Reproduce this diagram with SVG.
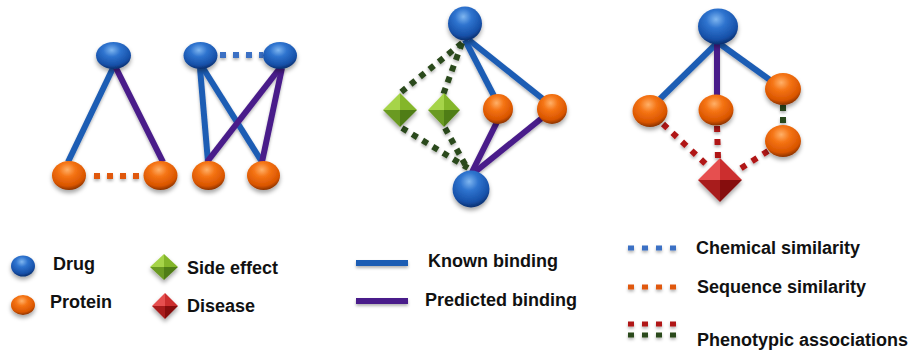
<svg xmlns="http://www.w3.org/2000/svg" width="912" height="358" viewBox="0 0 912 358">
<defs>
<radialGradient id="gBlue" cx="0.45" cy="0.3" r="0.7">
<stop offset="0" stop-color="#7fb6f0"/>
<stop offset="0.35" stop-color="#2f74cf"/>
<stop offset="0.8" stop-color="#1650a8"/>
<stop offset="1" stop-color="#0b2f6e"/>
</radialGradient>
<radialGradient id="gOrange" cx="0.45" cy="0.3" r="0.7">
<stop offset="0" stop-color="#ffb068"/>
<stop offset="0.35" stop-color="#f57414"/>
<stop offset="0.8" stop-color="#d95500"/>
<stop offset="1" stop-color="#8a3300"/>
</radialGradient>
<filter id="sh" x="-50%" y="-50%" width="200%" height="200%">
<feDropShadow dx="0" dy="3" stdDeviation="2" flood-color="#000" flood-opacity="0.35"/>
</filter>
<filter id="lsh" filterUnits="userSpaceOnUse" x="0" y="0" width="912" height="358">
<feDropShadow dx="0" dy="2" stdDeviation="1.5" flood-color="#000" flood-opacity="0.3"/>
</filter>
</defs>
<style>
.drug{fill:url(#gBlue);filter:url(#sh)}
.prot{fill:url(#gOrange);filter:url(#sh)}
.known{stroke:#1f5db4;stroke-width:6;fill:none}
.pred{stroke:#4a1d8a;stroke-width:6;fill:none}
.chem{stroke:#3b6fc4;stroke-width:6;stroke-dasharray:6 7;fill:none}
.seq{stroke:#e0580e;stroke-width:6;stroke-dasharray:6 7;fill:none}
.phg{stroke:#2c4a1c;stroke-width:6;stroke-dasharray:6 6;fill:none}
.phr{stroke:#b01414;stroke-width:6;stroke-dasharray:6 7;fill:none}
.ldot{stroke-width:5;stroke-dasharray:6 8}
.lbl{font-family:"Liberation Sans",Arial,sans-serif;font-weight:bold;font-size:18px;fill:#111}
</style>

<g id="connectors" filter="url(#lsh)">
<!-- panel 1 -->
<line class="known" x1="113" y1="68" x2="68" y2="162"/>
<line class="pred" x1="116" y1="68" x2="163" y2="162"/>
<line class="seq" x1="94" y1="176" x2="142" y2="176"/>
<!-- panel 2 -->
<line class="chem" x1="220" y1="55" x2="263" y2="55"/>
<line class="known" x1="200" y1="68" x2="208" y2="162"/>
<line class="known" x1="203" y1="68" x2="262" y2="162"/>
<line class="pred" x1="280" y1="68" x2="207" y2="162"/>
<line class="pred" x1="282" y1="68" x2="262" y2="162"/>
<!-- panel 3 -->
<line class="known" x1="465" y1="40" x2="494" y2="96"/>
<line class="known" x1="469" y1="40" x2="543" y2="99"/>
<line class="pred" x1="472" y1="172" x2="497" y2="122"/>
<line class="pred" x1="475" y1="172" x2="542" y2="118"/>
<line class="phg" x1="462" y1="43" x2="400" y2="93"/>
<line class="phg" x1="462" y1="43" x2="443" y2="95"/>
<line class="phg" x1="402" y1="128" x2="468" y2="168"/>
<line class="phg" x1="445" y1="128" x2="467" y2="168"/>
<!-- panel 4 -->
<line class="known" x1="716" y1="44" x2="660" y2="99"/>
<line class="known" x1="720" y1="44" x2="770" y2="80"/>
<line class="pred" x1="717" y1="44" x2="717" y2="95"/>
<line class="phg" x1="783" y1="105" x2="783" y2="126"/>
<line class="phr" x1="663" y1="124" x2="708" y2="166"/>
<line class="phr" x1="717" y1="126" x2="718" y2="158"/>
<line class="phr" x1="768" y1="151" x2="735" y2="172"/>
</g>

<g id="p1-drug"><ellipse class="drug" cx="113.5" cy="55.5" rx="17.5" ry="13.5"/></g>
<g id="p1-protein1"><ellipse class="prot" cx="69" cy="175.5" rx="17" ry="14.5"/></g>
<g id="p1-protein2"><ellipse class="prot" cx="160.5" cy="175.5" rx="17" ry="14.5"/></g>

<g id="p2-drug1"><ellipse class="drug" cx="200.5" cy="55.5" rx="17" ry="13.5"/></g>
<g id="p2-drug2"><ellipse class="drug" cx="280" cy="55.5" rx="17" ry="13.5"/></g>
<g id="p2-protein1"><ellipse class="prot" cx="208.5" cy="175.5" rx="16.5" ry="14.5"/></g>
<g id="p2-protein2"><ellipse class="prot" cx="263.5" cy="175.5" rx="16.5" ry="14.5"/></g>

<g id="p3-drug1"><circle class="drug" cx="465" cy="23.5" r="17"/></g>
<g id="p3-drug2"><circle class="drug" cx="471" cy="189" r="18.5"/></g>
<g id="p3-protein1"><circle class="prot" cx="498" cy="109" r="15"/></g>
<g id="p3-protein2"><circle class="prot" cx="552" cy="109" r="15"/></g>
<g id="p3-side1" filter="url(#sh)">
<polygon points="383,110 400,93 400,110" fill="#a6d44a"/>
<polygon points="400,93 417,110 400,110" fill="#84b62c"/>
<polygon points="383,110 400,127 400,110" fill="#6a9a20"/>
<polygon points="417,110 400,127 400,110" fill="#507d14"/>
</g>
<g id="p3-side2" filter="url(#sh)">
<polygon points="428,110 444,93 444,110" fill="#a6d44a"/>
<polygon points="444,93 460,110 444,110" fill="#84b62c"/>
<polygon points="428,110 444,127 444,110" fill="#6a9a20"/>
<polygon points="460,110 444,127 444,110" fill="#507d14"/>
</g>

<g id="p4-drug"><ellipse class="drug" cx="718" cy="26.5" rx="20" ry="18"/></g>
<g id="p4-protein1"><ellipse class="prot" cx="650" cy="111" rx="17.5" ry="16"/></g>
<g id="p4-protein2"><ellipse class="prot" cx="716" cy="110" rx="17.5" ry="15.5"/></g>
<g id="p4-protein3"><ellipse class="prot" cx="783" cy="89" rx="18" ry="16"/></g>
<g id="p4-protein4"><ellipse class="prot" cx="783" cy="141" rx="18" ry="16"/></g>
<g id="p4-disease" filter="url(#sh)">
<polygon points="698,180 720,158 720,180" fill="#e65050"/>
<polygon points="720,158 742,180 720,180" fill="#cc2e2e"/>
<polygon points="698,180 720,202 720,180" fill="#a81c1c"/>
<polygon points="742,180 720,202 720,180" fill="#861010"/>
</g>

<g id="legend-nodes">
<ellipse class="drug" cx="23" cy="266" rx="12" ry="10.5"/>
<text class="lbl" x="53" y="270">Drug</text>
<ellipse class="prot" cx="23" cy="305" rx="12" ry="10"/>
<text class="lbl" x="50" y="308">Protein</text>
<g filter="url(#sh)">
<polygon points="150,267 164,254 164,267" fill="#a6d44a"/>
<polygon points="164,254 178,267 164,267" fill="#84b62c"/>
<polygon points="150,267 164,280 164,267" fill="#6a9a20"/>
<polygon points="178,267 164,280 164,267" fill="#507d14"/>
</g>
<text class="lbl" x="187" y="274">Side effect</text>
<g filter="url(#sh)">
<polygon points="152,306 165,293 165,306" fill="#e65050"/>
<polygon points="165,293 178,306 165,306" fill="#cc2e2e"/>
<polygon points="152,306 165,319 165,306" fill="#a81c1c"/>
<polygon points="178,306 165,319 165,306" fill="#861010"/>
</g>
<text class="lbl" x="187" y="312">Disease</text>
</g>

<g id="legend-edges">
<g filter="url(#lsh)">
<line class="known" x1="356" y1="263" x2="408" y2="263" stroke-width="5"/>
<line class="pred" x1="356" y1="301" x2="408" y2="301" stroke-width="5"/>
<line class="chem ldot" x1="628" y1="248" x2="676" y2="248"/>
<line class="seq ldot" x1="628" y1="287" x2="676" y2="287"/>
<line class="phr ldot" x1="628" y1="324" x2="676" y2="324"/>
<line class="phg ldot" x1="628" y1="335" x2="676" y2="335"/>
</g>
<text class="lbl" x="428" y="267">Known binding</text>
<text class="lbl" x="425" y="306">Predicted binding</text>
<text class="lbl" x="696" y="254">Chemical similarity</text>
<text class="lbl" x="697" y="293">Sequence similarity</text>
<text class="lbl" x="697" y="346">Phenotypic associations</text>
</g>
</svg>
